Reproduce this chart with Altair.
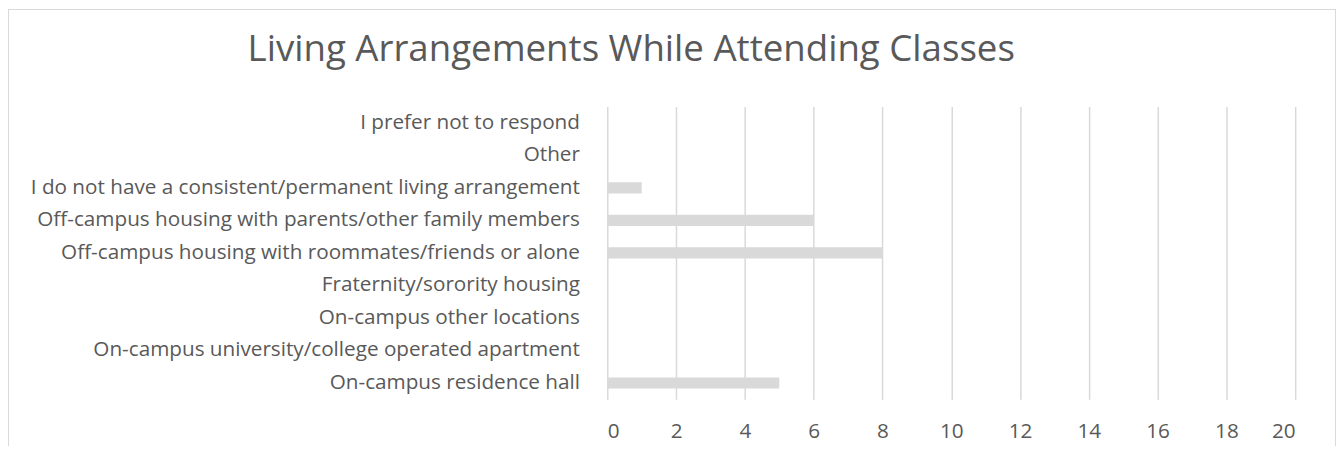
import altair as alt
import pandas as pd

categories = [
    "I prefer not to respond",
    "Other",
    "I do not have a consistent/permanent living arrangement",
    "Off-campus housing with parents/other family members",
    "Off-campus housing with roommates/friends or alone",
    "Fraternity/sorority housing",
    "On-campus other locations",
    "On-campus university/college operated apartment",
    "On-campus residence hall",
]
counts = [0, 0, 1, 6, 8, 0, 0, 0, 5]
x_ticks = [0, 2, 4, 6, 8, 10, 12, 14, 16, 18, 20]
title_text = "Living Arrangements While Attending Classes"

df = pd.DataFrame({"category": categories, "count": counts})

FONT = "Open Sans"
TEXT = "#595959"
GRID = "#d9d9d9"
PLOT_W = 691
PLOT_H = 294

bars = alt.Chart(df).mark_bar(color="#d9d9d9").encode(
    x=alt.X(
        "count:Q",
        scale=alt.Scale(domain=[0, 20], nice=False),
        axis=alt.Axis(
            values=x_ticks,
            grid=True,
            gridColor=GRID,
            gridWidth=1.5,
            domain=False,
            ticks=False,
            labelPadding=22,
            labelFontSize=20.8,
            labelColor=TEXT,
            labelFont=FONT,
            title=None,
        ),
    ),
    y=alt.Y(
        "category:N",
        sort=categories,
        scale=alt.Scale(paddingInner=0.66, paddingOuter=0.33),
        axis=alt.Axis(
            domain=False,
            ticks=False,
            grid=False,
            labelPadding=28,
            labelFontSize=20.8,
            labelColor=TEXT,
            labelFont=FONT,
            labelLimit=700,
            minExtent=602,
            maxExtent=602,
            title=None,
        ),
    ),
)

# chart frame (left, top, right edges)
frame_left = alt.Chart(df).mark_rule(color=GRID, strokeWidth=1).encode(
    x=alt.value(-601.5), y=alt.value(-97.5), y2=alt.value(341)
)
frame_top = alt.Chart(df).mark_rule(color=GRID, strokeWidth=1).encode(
    x=alt.value(-601.5), x2=alt.value(731.5), y=alt.value(-97.5)
)
frame_right = alt.Chart(df).mark_rule(color=GRID, strokeWidth=1).encode(
    x=alt.value(731.5), y=alt.value(-97.5), y2=alt.value(341)
)

chart = (
    alt.layer(frame_left, frame_top, frame_right, bars)
    .properties(
        width=PLOT_W,
        height=PLOT_H,
        title=alt.TitleParams(
            text=title_text,
            font=FONT,
            fontSize=36.8,
            fontWeight="normal",
            color=TEXT,
            anchor="middle",
            frame="group",
            baseline="alphabetic",
            offset=-89,
            dx=-321.5,
        ),
        padding=0,
        background="white",
    )
    .configure_view(stroke=None)
)

chart.save("out.html", embed_options={"renderer": "svg", "actions": False})
